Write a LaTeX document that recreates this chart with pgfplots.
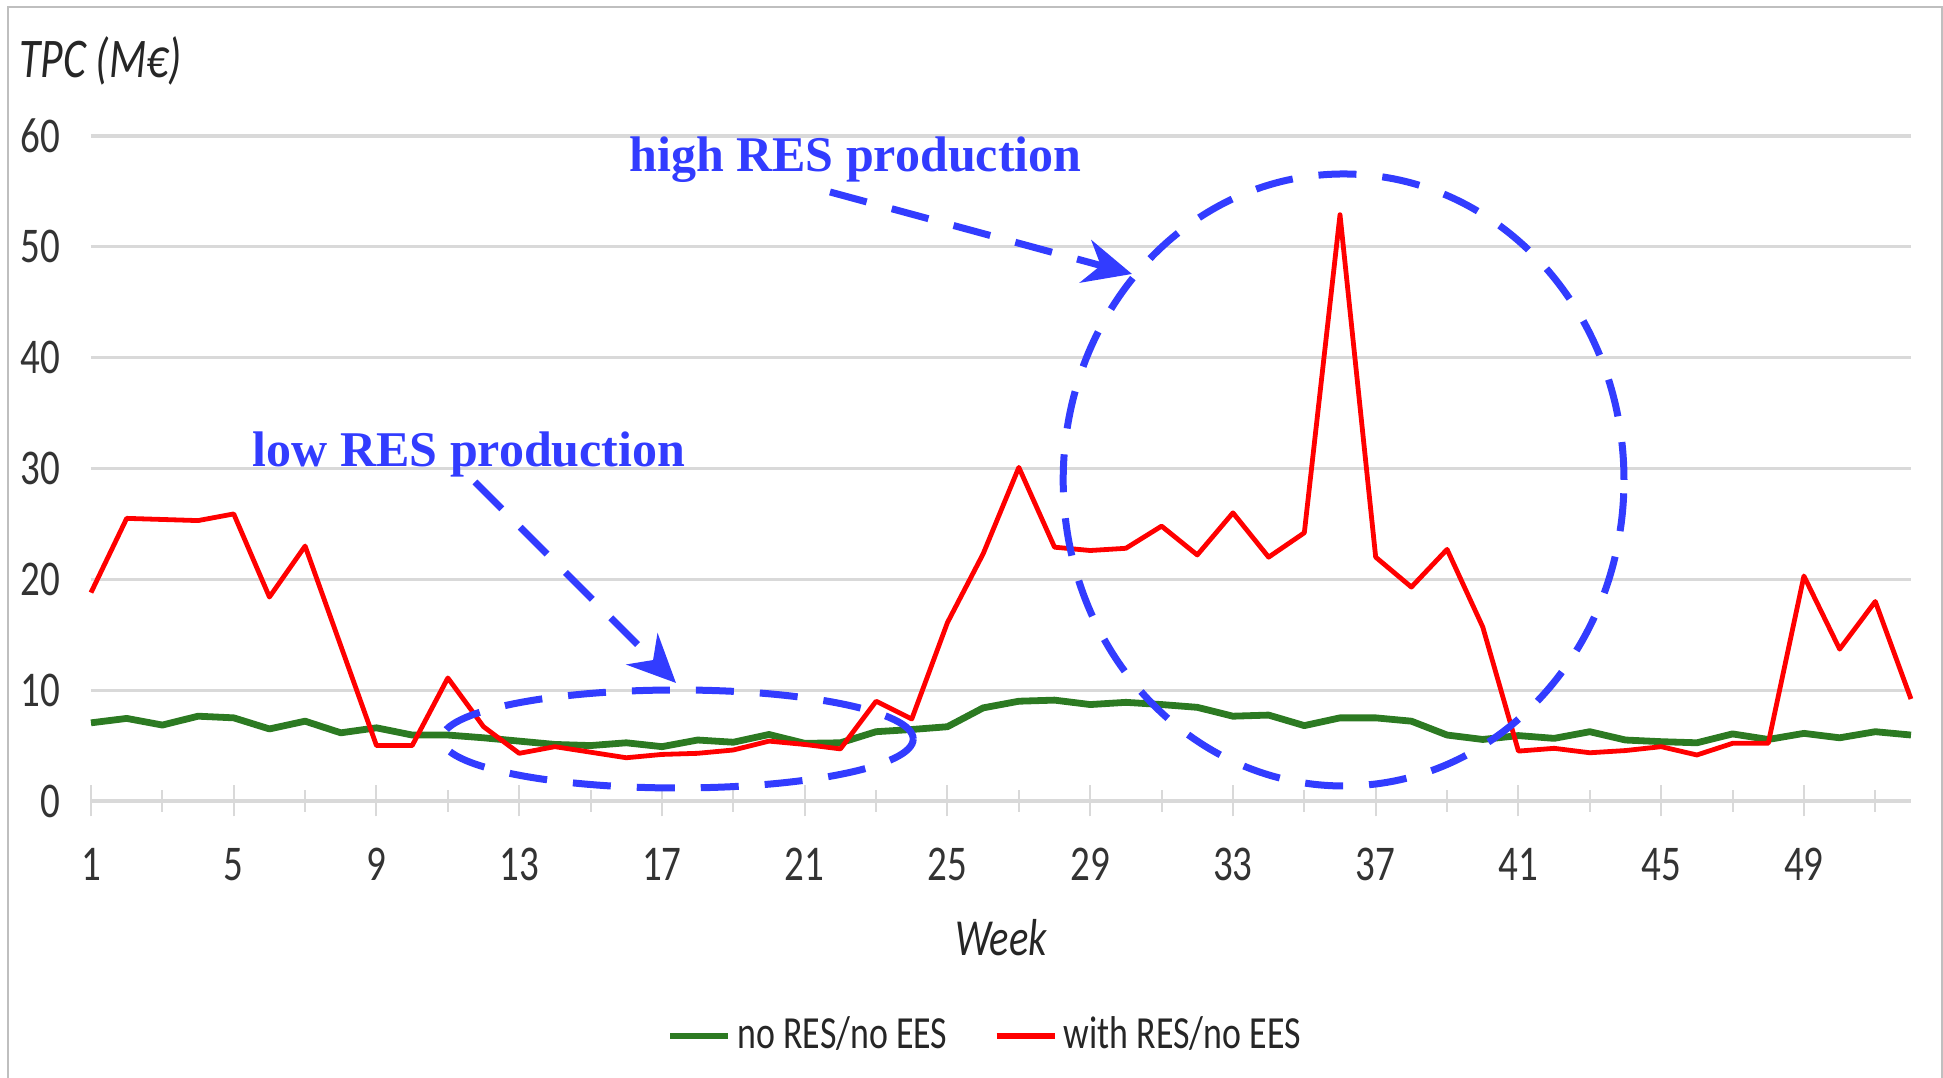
\documentclass[border=0pt]{standalone}
\usepackage{pgfplots}
\pgfplotsset{compat=1.18}
\usepackage{fontspec}
\setmainfont[FakeStretch=0.78]{Carlito}
\newfontfamily\annotfont{Liberation Serif}
\usetikzlibrary{arrows.meta}

\definecolor{resgreen}{RGB}{44,122,34}
\definecolor{resred}{RGB}{255,0,0}
\definecolor{annblue}{RGB}{50,60,255}
\definecolor{gridgray}{RGB}{217,217,217}

\begin{document}
\begin{tikzpicture}
\path[use as bounding box] (0pt,0pt) rectangle (485.75pt,269.5pt);
\draw[gray!50, line width=0.4pt] (2pt,0pt) -- (2pt,267.75pt) -- (485.5pt,267.75pt) -- (485.5pt,0pt);

\begin{axis}[
    at={(22.75pt,69.25pt)}, anchor=south west,
    scale only axis, width=455pt, height=166.25pt,
    xmin=1, xmax=52, ymin=0, ymax=60,
    axis lines=left, axis line style={draw=none,-},
    xtick={1,5,...,49}, minor xtick={3,7,...,51},
    ytick={0,10,...,60},
    ymajorgrids, grid style={gridgray, line width=0.8pt},
    tick align=center, major tick length=7.75pt, minor tick length=5.5pt,
    xtick style={gridgray, line width=0.5pt},
    ytick style={draw=none},
    /pgf/number format/assume math mode=true,
    xticklabel style={font=\fontsize{12.5}{14}\selectfont, text=black!80,
        anchor=north, inner sep=0pt, yshift=-7.8pt},
    yticklabel style={font=\fontsize{12.5}{14}\selectfont, text=black!80,
        anchor=east, inner sep=0pt, xshift=-3.6pt},
    xlabel={Week},
    xlabel style={at={(axis description cs:0.5,0)}, anchor=center,
        yshift=-34.25pt, font=\fontsize{13}{15}\selectfont\itshape, text=black!85},
    ylabel={TPC (M€)},
    ylabel style={rotate=-90, at={(axis description cs:-0.0471,1.0887)},
        anchor=base west, font=\fontsize{14}{16}\selectfont\itshape, text=black!85},
    legend columns=2,
    legend style={at={(0.4923,-0.3534)}, anchor=center, draw=none, fill=none,
        font=\fontsize{11.5}{13}\selectfont, text=black!85,
        /tikz/every even column/.append style={column sep=10pt},
        nodes={inner sep=1.5pt}},
    legend image code/.code={\draw[#1, line width=1.6pt] (0pt,0pt) -- (14.5pt,0pt);},
    clip=false,
]

% no RES / no EES
\addplot[resgreen, line width=1.7pt, line join=round] coordinates {
(1,7.05)(2,7.45)(3,6.85)(4,7.65)(5,7.5)(6,6.5)(7,7.2)(8,6.15)(9,6.6)(10,5.95)
(11,5.95)(12,5.7)(13,5.4)(14,5.1)(15,5.0)(16,5.25)(17,4.9)(18,5.5)(19,5.3)(20,6.0)
(21,5.2)(22,5.25)(23,6.25)(24,6.45)(25,6.7)(26,8.4)(27,9.0)(28,9.1)(29,8.7)(30,8.9)
(31,8.7)(32,8.45)(33,7.65)(34,7.75)(35,6.8)(36,7.5)(37,7.5)(38,7.2)(39,5.95)(40,5.55)
(41,5.9)(42,5.65)(43,6.25)(44,5.5)(45,5.35)(46,5.25)(47,6.05)(48,5.55)(49,6.1)(50,5.7)
(51,6.25)(52,5.95)
};

% with RES / no EES
\addplot[resred, line width=1.2pt, line join=round] coordinates {
(1,18.8)(2,25.5)(3,25.4)(4,25.3)(5,25.9)(6,18.4)(7,23.0)(8,14.0)(9,5.0)(10,5.0)
(11,11.1)(12,6.7)(13,4.3)(14,4.9)(15,4.4)(16,3.9)(17,4.2)(18,4.3)(19,4.6)(20,5.4)
(21,5.1)(22,4.7)(23,9.0)(24,7.4)(25,16.1)(26,22.3)(27,30.1)(28,22.9)(29,22.6)(30,22.8)
(31,24.8)(32,22.2)(33,26.0)(34,22.0)(35,24.2)(36,52.9)(37,22.0)(38,19.3)(39,22.7)(40,15.7)
(41,4.5)(42,4.75)(43,4.35)(44,4.55)(45,4.9)(46,4.15)(47,5.2)(48,5.2)(49,20.3)(50,13.7)
(51,18.0)(52,9.2)
};

\legend{no RES/no EES, with RES/no EES}
\end{axis}

% annotations
\begin{scope}[annblue, line width=1.75pt, dash pattern=on 9.5pt off 6.5pt]
\draw (169.4pt,84.75pt) ellipse [x radius=58.9pt, y radius=12.25pt];
\draw (335.9pt,149.5pt) ellipse [x radius=70.1pt, y radius=76.5pt];
\draw[-{Stealth[length=12pt,width=11pt]}] (118.75pt,149pt) -- (169pt,98.75pt);
\draw[-{Stealth[length=12pt,width=11pt]}] (207.5pt,221.5pt) -- (283pt,201pt);
\end{scope}
\node[text=annblue, anchor=base west, inner sep=0pt,
    font=\annotfont\bfseries\fontsize{12.5}{14}\selectfont]
    at (157.15pt,226.6pt) {high RES production};
\node[text=annblue, anchor=base west, inner sep=0pt,
    font=\annotfont\bfseries\fontsize{12.5}{14}\selectfont]
    at (63pt,152.8pt) {low RES production};
\end{tikzpicture}
\end{document}
